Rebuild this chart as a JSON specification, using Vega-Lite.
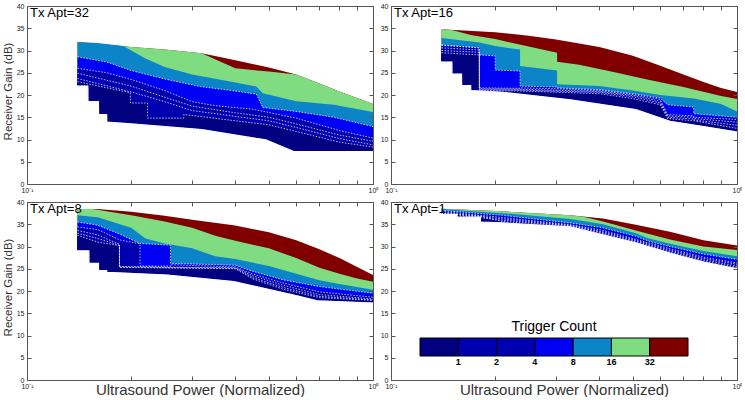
{
"$schema":"https://vega.github.io/schema/vega-lite/v6.json",
"padding":{"left":2,"top":2,"right":0,"bottom":0},
"background":"white",
"config":{"view":{"stroke":null},"font":"Liberation Sans",
"legend":{"orient":"none","legendX":393,"legendY":314,"direction":"horizontal","gradientLength":268,"gradientThickness":18,"titleFontSize":14,"titleFontWeight":"normal","titleAnchor":"middle","titlePadding":4,"titleColor":"#000","labelFontSize":9,"labelFontWeight":"bold","labelColor":"#000","labelOverlap":false,"labelOffset":3,"gradientStrokeColor":"#000","gradientStrokeWidth":1,"padding":0}},
"data":{"values":[
{"p":1,"c":5.5,"x":0.14,"y":31.9},{"p":1,"c":5.5,"x":0.2,"y":30.8},{"p":1,"c":5.5,"x":0.25,"y":30.2},{"p":1,"c":5.5,"x":0.32,"y":29.4},{"p":1,"c":5.5,"x":0.4,"y":27.8},{"p":1,"c":5.5,"x":0.5,"y":26.2},{"p":1,"c":5.5,"x":0.6,"y":24.6},{"p":1,"c":5.5,"x":0.7,"y":22.6},{"p":1,"c":5.5,"x":0.8,"y":20.8},{"p":1,"c":5.5,"x":0.9,"y":19.3},{"p":1,"c":5.5,"x":1,"y":18.0},
{"p":1,"c":4.5,"x":0.14,"y":31.9},{"p":1,"c":4.5,"x":0.2,"y":30.8},{"p":1,"c":4.5,"x":0.25,"y":30.2},{"p":1,"c":4.5,"x":0.32,"y":29.4},{"p":1,"c":4.5,"x":0.36,"y":27.6},{"p":1,"c":4.5,"x":0.4,"y":26.0},{"p":1,"c":4.5,"x":0.45,"y":25.6},{"p":1,"c":4.5,"x":0.5,"y":25.3},{"p":1,"c":4.5,"x":0.6,"y":24.6},{"p":1,"c":4.5,"x":0.7,"y":22.6},{"p":1,"c":4.5,"x":0.8,"y":20.8},{"p":1,"c":4.5,"x":0.9,"y":19.3},{"p":1,"c":4.5,"x":1,"y":18.0},
{"p":1,"c":3.5,"x":0.14,"y":31.9},{"p":1,"c":3.5,"x":0.16,"y":31.7},{"p":1,"c":3.5,"x":0.19,"y":31.0},{"p":1,"c":3.5,"x":0.2,"y":30.0},{"p":1,"c":3.5,"x":0.22,"y":28.2},{"p":1,"c":3.5,"x":0.25,"y":26.3},{"p":1,"c":3.5,"x":0.3,"y":24.6},{"p":1,"c":3.5,"x":0.39,"y":23.0},{"p":1,"c":3.5,"x":0.46,"y":21.9},{"p":1,"c":3.5,"x":0.48,"y":20.4},{"p":1,"c":3.5,"x":0.6,"y":18.6},{"p":1,"c":3.5,"x":0.77,"y":17.8},{"p":1,"c":3.5,"x":1,"y":16.2},
{"p":1,"c":2.5,"x":0.14,"y":28.6},{"p":1,"c":2.5,"x":0.17,"y":27.4},{"p":1,"c":2.5,"x":0.2,"y":25.5},{"p":1,"c":2.5,"x":0.25,"y":23.6},{"p":1,"c":2.5,"x":0.316,"y":21.9},{"p":1,"c":2.5,"x":0.39,"y":21.0},{"p":1,"c":2.5,"x":0.46,"y":20.2},{"p":1,"c":2.5,"x":0.48,"y":17.2},{"p":1,"c":2.5,"x":0.6,"y":16.3},{"p":1,"c":2.5,"x":0.77,"y":15.0},{"p":1,"c":2.5,"x":1,"y":12.9},
{"p":1,"c":1.8,"x":0.14,"y":26.0},{"p":1,"c":1.8,"x":0.17,"y":25.0},{"p":1,"c":1.8,"x":0.2,"y":23.5},{"p":1,"c":1.8,"x":0.25,"y":21.0},{"p":1,"c":1.8,"x":0.3,"y":18.5},{"p":1,"c":1.8,"x":0.35,"y":17.6},{"p":1,"c":1.8,"x":0.45,"y":16.8},{"p":1,"c":1.8,"x":0.6,"y":14.8},{"p":1,"c":1.8,"x":0.8,"y":12.0},{"p":1,"c":1.8,"x":1,"y":10.3},
{"p":1,"c":1.2,"x":0.14,"y":24.9},{"p":1,"c":1.2,"x":0.2,"y":22.0},{"p":1,"c":1.2,"x":0.25,"y":19.5},{"p":1,"c":1.2,"x":0.3,"y":17.5},{"p":1,"c":1.2,"x":0.4,"y":16.0},{"p":1,"c":1.2,"x":0.5,"y":15.0},{"p":1,"c":1.2,"x":0.6,"y":13.5},{"p":1,"c":1.2,"x":0.8,"y":11.0},{"p":1,"c":1.2,"x":1,"y":9.6},
{"p":1,"c":0.5,"x":0.14,"y":23.7},{"p":1,"c":0.5,"x":0.2,"y":20.7},{"p":1,"c":0.5,"x":0.25,"y":18.5},{"p":1,"c":0.5,"x":0.3,"y":16.5},{"p":1,"c":0.5,"x":0.4,"y":15.2},{"p":1,"c":0.5,"x":0.5,"y":14.2},{"p":1,"c":0.5,"x":0.6,"y":12.7},{"p":1,"c":0.5,"x":0.8,"y":10.2},{"p":1,"c":0.5,"x":1,"y":8.8},
{"p":1,"c":-0.5,"x":0.14,"y":23.0},{"p":1,"c":-0.5,"x":0.199,"y":20.5},{"p":1,"c":-0.5,"x":0.1991,"y":18.2},{"p":1,"c":-0.5,"x":0.223,"y":18.2},{"p":1,"c":-0.5,"x":0.2231,"y":14.8},{"p":1,"c":-0.5,"x":0.284,"y":14.8},{"p":1,"c":-0.5,"x":0.2841,"y":15.6},{"p":1,"c":-0.5,"x":0.3,"y":15.4},{"p":1,"c":-0.5,"x":0.4,"y":14.2},{"p":1,"c":-0.5,"x":0.5,"y":13.3},{"p":1,"c":-0.5,"x":0.6,"y":11.8},{"p":1,"c":-0.5,"x":0.8,"y":9.4},{"p":1,"c":-0.5,"x":1,"y":8.3},
{"p":1,"c":-9,"x":0.14,"y":22.0},{"p":1,"c":-9,"x":0.1499,"y":22.0},{"p":1,"c":-9,"x":0.15,"y":18.5},{"p":1,"c":-9,"x":0.1609,"y":18.5},{"p":1,"c":-9,"x":0.161,"y":15.6},{"p":1,"c":-9,"x":0.1699,"y":15.6},{"p":1,"c":-9,"x":0.17,"y":13.9},{"p":1,"c":-9,"x":0.2,"y":13.5},{"p":1,"c":-9,"x":0.32,"y":12.2},{"p":1,"c":-9,"x":0.49,"y":9.9},{"p":1,"c":-9,"x":0.59,"y":7.3},{"p":1,"c":-9,"x":1,"y":7.3},
{"p":2,"c":5.5,"x":0.14,"y":34.8},{"p":2,"c":5.5,"x":0.2,"y":34.1},{"p":2,"c":5.5,"x":0.25,"y":33.3},{"p":2,"c":5.5,"x":0.3,"y":32.5},{"p":2,"c":5.5,"x":0.4,"y":30.8},{"p":2,"c":5.5,"x":0.5,"y":28.8},{"p":2,"c":5.5,"x":0.6,"y":26.6},{"p":2,"c":5.5,"x":0.7,"y":24.6},{"p":2,"c":5.5,"x":0.8,"y":22.9},{"p":2,"c":5.5,"x":0.9,"y":21.6},{"p":2,"c":5.5,"x":1,"y":20.7},
{"p":2,"c":4.5,"x":0.14,"y":34.8},{"p":2,"c":4.5,"x":0.15,"y":34.6},{"p":2,"c":4.5,"x":0.17,"y":33.5},{"p":2,"c":4.5,"x":0.2,"y":32.6},{"p":2,"c":4.5,"x":0.23,"y":31.5},{"p":2,"c":4.5,"x":0.302,"y":29.5},{"p":2,"c":4.5,"x":0.3021,"y":27.5},{"p":2,"c":4.5,"x":0.35,"y":26.8},{"p":2,"c":4.5,"x":0.45,"y":25.0},{"p":2,"c":4.5,"x":0.55,"y":23.5},{"p":2,"c":4.5,"x":0.7,"y":21.8},{"p":2,"c":4.5,"x":0.9,"y":19.8},{"p":2,"c":4.5,"x":1,"y":19.1},
{"p":2,"c":3.5,"x":0.14,"y":32.8},{"p":2,"c":3.5,"x":0.18,"y":31.8},{"p":2,"c":3.5,"x":0.2,"y":31.0},{"p":2,"c":3.5,"x":0.236,"y":30.2},{"p":2,"c":3.5,"x":0.2361,"y":26.5},{"p":2,"c":3.5,"x":0.302,"y":25.5},{"p":2,"c":3.5,"x":0.3021,"y":22.4},{"p":2,"c":3.5,"x":0.4,"y":22.0},{"p":2,"c":3.5,"x":0.5,"y":21.0},{"p":2,"c":3.5,"x":0.6,"y":20.0},{"p":2,"c":3.5,"x":0.75,"y":19.2},{"p":2,"c":3.5,"x":0.9,"y":18.0},{"p":2,"c":3.5,"x":1,"y":16.3},
{"p":2,"c":2.5,"x":0.14,"y":31.2},{"p":2,"c":2.5,"x":0.18,"y":30.6},{"p":2,"c":2.5,"x":0.1801,"y":29.0},{"p":2,"c":2.5,"x":0.2,"y":28.8},{"p":2,"c":2.5,"x":0.2001,"y":25.6},{"p":2,"c":2.5,"x":0.236,"y":25.4},{"p":2,"c":2.5,"x":0.2361,"y":22.0},{"p":2,"c":2.5,"x":0.302,"y":21.8},{"p":2,"c":2.5,"x":0.3021,"y":21.6},{"p":2,"c":2.5,"x":0.4,"y":21.2},{"p":2,"c":2.5,"x":0.5,"y":20.3},{"p":2,"c":2.5,"x":0.6,"y":19.3},{"p":2,"c":2.5,"x":0.63,"y":17.8},{"p":2,"c":2.5,"x":0.75,"y":17.3},{"p":2,"c":2.5,"x":0.7501,"y":15.8},{"p":2,"c":2.5,"x":1,"y":15.0},
{"p":2,"c":1.8,"x":0.14,"y":31.2},{"p":2,"c":1.8,"x":0.18,"y":30.6},{"p":2,"c":1.8,"x":0.1801,"y":21.6},{"p":2,"c":1.8,"x":0.236,"y":21.5},{"p":2,"c":1.8,"x":0.2361,"y":21.6},{"p":2,"c":1.8,"x":0.302,"y":21.4},{"p":2,"c":1.8,"x":0.4,"y":21.0},{"p":2,"c":1.8,"x":0.5,"y":20.1},{"p":2,"c":1.8,"x":0.6,"y":19.0},{"p":2,"c":1.8,"x":0.63,"y":15.6},{"p":2,"c":1.8,"x":0.75,"y":15.3},{"p":2,"c":1.8,"x":0.7501,"y":15.0},{"p":2,"c":1.8,"x":1,"y":14.5},
{"p":2,"c":1.2,"x":0.14,"y":30.6},{"p":2,"c":1.2,"x":0.18,"y":30.1},{"p":2,"c":1.2,"x":0.1801,"y":21.4},{"p":2,"c":1.2,"x":0.236,"y":21.3},{"p":2,"c":1.2,"x":0.4,"y":20.8},{"p":2,"c":1.2,"x":0.5,"y":19.9},{"p":2,"c":1.2,"x":0.6,"y":18.6},{"p":2,"c":1.2,"x":0.63,"y":15.3},{"p":2,"c":1.2,"x":0.75,"y":15.0},{"p":2,"c":1.2,"x":0.7501,"y":14.7},{"p":2,"c":1.2,"x":1,"y":13.9},
{"p":2,"c":0.5,"x":0.14,"y":30.0},{"p":2,"c":0.5,"x":0.18,"y":29.6},{"p":2,"c":0.5,"x":0.1801,"y":21.2},{"p":2,"c":0.5,"x":0.236,"y":21.1},{"p":2,"c":0.5,"x":0.4,"y":20.6},{"p":2,"c":0.5,"x":0.5,"y":19.6},{"p":2,"c":0.5,"x":0.6,"y":18.2},{"p":2,"c":0.5,"x":0.63,"y":15.0},{"p":2,"c":0.5,"x":0.75,"y":14.6},{"p":2,"c":0.5,"x":0.7501,"y":14.4},{"p":2,"c":0.5,"x":1,"y":13.2},
{"p":2,"c":-0.5,"x":0.14,"y":29.5},{"p":2,"c":-0.5,"x":0.18,"y":29.0},{"p":2,"c":-0.5,"x":0.1801,"y":21.0},{"p":2,"c":-0.5,"x":0.236,"y":20.9},{"p":2,"c":-0.5,"x":0.4,"y":20.3},{"p":2,"c":-0.5,"x":0.5,"y":19.2},{"p":2,"c":-0.5,"x":0.6,"y":17.8},{"p":2,"c":-0.5,"x":0.63,"y":14.7},{"p":2,"c":-0.5,"x":0.75,"y":14.2},{"p":2,"c":-0.5,"x":1,"y":12.5},
{"p":2,"c":-9,"x":0.14,"y":27.4},{"p":2,"c":-9,"x":0.1499,"y":27.4},{"p":2,"c":-9,"x":0.15,"y":24.7},{"p":2,"c":-9,"x":0.1599,"y":24.7},{"p":2,"c":-9,"x":0.16,"y":22.1},{"p":2,"c":-9,"x":0.1699,"y":22.1},{"p":2,"c":-9,"x":0.17,"y":21.0},{"p":2,"c":-9,"x":0.21,"y":20.6},{"p":2,"c":-9,"x":0.33,"y":18.9},{"p":2,"c":-9,"x":0.51,"y":16.7},{"p":2,"c":-9,"x":0.64,"y":14.1},{"p":2,"c":-9,"x":0.8,"y":12.9},{"p":2,"c":-9,"x":1,"y":11.7},
{"p":3,"c":5.5,"x":0.14,"y":38.4},{"p":3,"c":5.5,"x":0.16,"y":38.4},{"p":3,"c":5.5,"x":0.2,"y":37.8},{"p":3,"c":5.5,"x":0.25,"y":36.9},{"p":3,"c":5.5,"x":0.3,"y":36.0},{"p":3,"c":5.5,"x":0.4,"y":34.7},{"p":3,"c":5.5,"x":0.5,"y":33.2},{"p":3,"c":5.5,"x":0.6,"y":31.4},{"p":3,"c":5.5,"x":0.7,"y":29.4},{"p":3,"c":5.5,"x":0.8,"y":27.4},{"p":3,"c":5.5,"x":0.9,"y":25.4},{"p":3,"c":5.5,"x":1,"y":23.6},
{"p":3,"c":4.5,"x":0.14,"y":38.4},{"p":3,"c":4.5,"x":0.155,"y":38.4},{"p":3,"c":4.5,"x":0.17,"y":37.9},{"p":3,"c":4.5,"x":0.2,"y":37.0},{"p":3,"c":4.5,"x":0.25,"y":35.6},{"p":3,"c":4.5,"x":0.3,"y":34.2},{"p":3,"c":4.5,"x":0.35,"y":32.4},{"p":3,"c":4.5,"x":0.4,"y":31.3},{"p":3,"c":4.5,"x":0.5,"y":29.6},{"p":3,"c":4.5,"x":0.6,"y":27.4},{"p":3,"c":4.5,"x":0.7,"y":25.2},{"p":3,"c":4.5,"x":0.8,"y":23.9},{"p":3,"c":4.5,"x":0.9,"y":22.8},{"p":3,"c":4.5,"x":1,"y":22.1},
{"p":3,"c":3.5,"x":0.14,"y":37.0},{"p":3,"c":3.5,"x":0.16,"y":36.6},{"p":3,"c":3.5,"x":0.2,"y":34.2},{"p":3,"c":3.5,"x":0.22,"y":31.8},{"p":3,"c":3.5,"x":0.25,"y":30.7},{"p":3,"c":3.5,"x":0.3,"y":29.6},{"p":3,"c":3.5,"x":0.35,"y":27.8},{"p":3,"c":3.5,"x":0.4,"y":27.2},{"p":3,"c":3.5,"x":0.5,"y":25.6},{"p":3,"c":3.5,"x":0.6,"y":23.9},{"p":3,"c":3.5,"x":0.7,"y":22.4},{"p":3,"c":3.5,"x":0.8,"y":21.6},{"p":3,"c":3.5,"x":1,"y":20.3},
{"p":3,"c":2.5,"x":0.14,"y":35.5},{"p":3,"c":2.5,"x":0.16,"y":34.8},{"p":3,"c":2.5,"x":0.185,"y":32.8},{"p":3,"c":2.5,"x":0.212,"y":30.7},{"p":3,"c":2.5,"x":0.26,"y":30.3},{"p":3,"c":2.5,"x":0.2601,"y":26.2},{"p":3,"c":2.5,"x":0.4,"y":25.8},{"p":3,"c":2.5,"x":0.45,"y":24.4},{"p":3,"c":2.5,"x":0.55,"y":22.5},{"p":3,"c":2.5,"x":0.7,"y":21.0},{"p":3,"c":2.5,"x":1,"y":19.5},
{"p":3,"c":1.8,"x":0.14,"y":34.4},{"p":3,"c":1.8,"x":0.16,"y":33.8},{"p":3,"c":1.8,"x":0.185,"y":31.5},{"p":3,"c":1.8,"x":0.212,"y":30.6},{"p":3,"c":1.8,"x":0.2121,"y":25.6},{"p":3,"c":1.8,"x":0.26,"y":25.6},{"p":3,"c":1.8,"x":0.2601,"y":25.9},{"p":3,"c":1.8,"x":0.4,"y":25.4},{"p":3,"c":1.8,"x":0.45,"y":23.8},{"p":3,"c":1.8,"x":0.55,"y":21.8},{"p":3,"c":1.8,"x":0.7,"y":19.8},{"p":3,"c":1.8,"x":1,"y":18.6},
{"p":3,"c":1.2,"x":0.14,"y":33.6},{"p":3,"c":1.2,"x":0.16,"y":32.6},{"p":3,"c":1.2,"x":0.185,"y":30.5},{"p":3,"c":1.2,"x":0.1851,"y":25.5},{"p":3,"c":1.2,"x":0.4,"y":25.2},{"p":3,"c":1.2,"x":0.45,"y":23.4},{"p":3,"c":1.2,"x":0.55,"y":21.3},{"p":3,"c":1.2,"x":0.7,"y":19.2},{"p":3,"c":1.2,"x":1,"y":18.2},
{"p":3,"c":0.5,"x":0.14,"y":33.0},{"p":3,"c":0.5,"x":0.16,"y":31.8},{"p":3,"c":0.5,"x":0.185,"y":30.3},{"p":3,"c":0.5,"x":0.1851,"y":25.4},{"p":3,"c":0.5,"x":0.4,"y":25.1},{"p":3,"c":0.5,"x":0.45,"y":23.0},{"p":3,"c":0.5,"x":0.55,"y":20.8},{"p":3,"c":0.5,"x":0.7,"y":18.8},{"p":3,"c":0.5,"x":1,"y":18.0},
{"p":3,"c":-0.5,"x":0.14,"y":32.5},{"p":3,"c":-0.5,"x":0.16,"y":31.0},{"p":3,"c":-0.5,"x":0.185,"y":30.2},{"p":3,"c":-0.5,"x":0.1851,"y":25.3},{"p":3,"c":-0.5,"x":0.4,"y":25.0},{"p":3,"c":-0.5,"x":0.45,"y":22.7},{"p":3,"c":-0.5,"x":0.55,"y":20.4},{"p":3,"c":-0.5,"x":0.7,"y":18.5},{"p":3,"c":-0.5,"x":1,"y":17.9},
{"p":3,"c":-9,"x":0.14,"y":29.0},{"p":3,"c":-9,"x":0.1509,"y":29.0},{"p":3,"c":-9,"x":0.151,"y":26.2},{"p":3,"c":-9,"x":0.1609,"y":26.2},{"p":3,"c":-9,"x":0.161,"y":24.6},{"p":3,"c":-9,"x":0.1699,"y":24.6},{"p":3,"c":-9,"x":0.17,"y":24.2},{"p":3,"c":-9,"x":0.254,"y":23.6},{"p":3,"c":-9,"x":0.396,"y":22.1},{"p":3,"c":-9,"x":0.59,"y":19.1},{"p":3,"c":-9,"x":0.69,"y":17.8},{"p":3,"c":-9,"x":1,"y":17.3},
{"p":4,"c":5.5,"x":0.14,"y":38.5},{"p":4,"c":5.5,"x":0.21,"y":37.9},{"p":4,"c":5.5,"x":0.33,"y":37.0},{"p":4,"c":5.5,"x":0.41,"y":36.3},{"p":4,"c":5.5,"x":0.51,"y":34.9},{"p":4,"c":5.5,"x":0.64,"y":33.3},{"p":4,"c":5.5,"x":0.8,"y":31.4},{"p":4,"c":5.5,"x":1,"y":30.2},
{"p":4,"c":4.5,"x":0.14,"y":38.5},{"p":4,"c":4.5,"x":0.21,"y":37.9},{"p":4,"c":4.5,"x":0.33,"y":37.0},{"p":4,"c":4.5,"x":0.36,"y":36.7},{"p":4,"c":4.5,"x":0.41,"y":35.6},{"p":4,"c":4.5,"x":0.51,"y":33.6},{"p":4,"c":4.5,"x":0.64,"y":31.6},{"p":4,"c":4.5,"x":0.8,"y":30.0},{"p":4,"c":4.5,"x":1,"y":29.2},
{"p":4,"c":3.5,"x":0.14,"y":38.4},{"p":4,"c":3.5,"x":0.21,"y":37.5},{"p":4,"c":3.5,"x":0.33,"y":36.2},{"p":4,"c":3.5,"x":0.41,"y":35.0},{"p":4,"c":3.5,"x":0.51,"y":33.0},{"p":4,"c":3.5,"x":0.55,"y":31.9},{"p":4,"c":3.5,"x":0.64,"y":30.6},{"p":4,"c":3.5,"x":0.8,"y":29.0},{"p":4,"c":3.5,"x":1,"y":27.8},
{"p":4,"c":2.5,"x":0.14,"y":38.1},{"p":4,"c":2.5,"x":0.21,"y":37.0},{"p":4,"c":2.5,"x":0.33,"y":35.3},{"p":4,"c":2.5,"x":0.41,"y":34.2},{"p":4,"c":2.5,"x":0.51,"y":32.3},{"p":4,"c":2.5,"x":0.56,"y":31.1},{"p":4,"c":2.5,"x":0.64,"y":30.0},{"p":4,"c":2.5,"x":0.8,"y":28.3},{"p":4,"c":2.5,"x":1,"y":27.1},
{"p":4,"c":1.8,"x":0.14,"y":37.9},{"p":4,"c":1.8,"x":0.21,"y":36.5},{"p":4,"c":1.8,"x":0.33,"y":34.9},{"p":4,"c":1.8,"x":0.41,"y":33.6},{"p":4,"c":1.8,"x":0.51,"y":31.6},{"p":4,"c":1.8,"x":0.64,"y":29.5},{"p":4,"c":1.8,"x":0.8,"y":27.6},{"p":4,"c":1.8,"x":1,"y":26.3},
{"p":4,"c":1.2,"x":0.14,"y":37.7},{"p":4,"c":1.2,"x":0.21,"y":36.2},{"p":4,"c":1.2,"x":0.33,"y":34.8},{"p":4,"c":1.2,"x":0.41,"y":33.3},{"p":4,"c":1.2,"x":0.51,"y":31.4},{"p":4,"c":1.2,"x":0.64,"y":29.2},{"p":4,"c":1.2,"x":0.8,"y":27.3},{"p":4,"c":1.2,"x":1,"y":26.0},
{"p":4,"c":0.5,"x":0.14,"y":37.5},{"p":4,"c":0.5,"x":0.21,"y":35.9},{"p":4,"c":0.5,"x":0.33,"y":34.7},{"p":4,"c":0.5,"x":0.41,"y":33.1},{"p":4,"c":0.5,"x":0.51,"y":31.2},{"p":4,"c":0.5,"x":0.64,"y":28.95},{"p":4,"c":0.5,"x":0.8,"y":27.0},{"p":4,"c":0.5,"x":1,"y":25.6},
{"p":4,"c":-0.5,"x":0.14,"y":37.4},{"p":4,"c":-0.5,"x":0.18,"y":36.9},{"p":4,"c":-0.5,"x":0.21,"y":35.6},{"p":4,"c":-0.5,"x":0.33,"y":34.6},{"p":4,"c":-0.5,"x":0.41,"y":32.9},{"p":4,"c":-0.5,"x":0.51,"y":31.0},{"p":4,"c":-0.5,"x":0.64,"y":28.7},{"p":4,"c":-0.5,"x":0.8,"y":26.75},{"p":4,"c":-0.5,"x":1,"y":25.3},
{"p":4,"c":-9,"x":0.14,"y":37.2},{"p":4,"c":-9,"x":0.1549,"y":37.2},{"p":4,"c":-9,"x":0.155,"y":36.6},{"p":4,"c":-9,"x":0.1811,"y":36.6},{"p":4,"c":-9,"x":0.1812,"y":35.5},{"p":4,"c":-9,"x":0.21,"y":35.3},{"p":4,"c":-9,"x":0.33,"y":34.4},{"p":4,"c":-9,"x":0.41,"y":32.6},{"p":4,"c":-9,"x":0.51,"y":30.8},{"p":4,"c":-9,"x":0.64,"y":28.5},{"p":4,"c":-9,"x":0.8,"y":26.5},{"p":4,"c":-9,"x":1,"y":25.0}
]},
"concat":[
{"width":346,"height":178,"resolve":{"axis":{"x":"independent","y":"independent"}},"layer":[
 {"transform":[{"filter":"datum.p == 1 && datum.c > -5"}],"mark":{"type":"area","interpolate":"linear"},
  "encoding":{"x":{"field":"x","type":"quantitative","scale":{"type":"log","domain":[0.1,1],"nice":false},"axis":{"orient":"bottom","values":[0.1,0.2,0.3,0.4,0.5,0.6,0.7,0.8,0.9,1],"labelExpr":"datum.value < 0.15 ? '10⁻¹' : (datum.value > 0.95 ? '10⁰' : '')","tickSize":-4,"labelPadding":6,"labelFontSize":7,"labelColor":"#222","labelFlush":false,"labelOverlap":false,"domainColor":"#555","tickColor":"#555","grid":false,"title":null,"zindex":2}},
  "y":{"field":"y","type":"quantitative","stack":null,"scale":{"domain":[0,40],"nice":false},"axis":{"orient":"left","values":[0,5,10,15,20,25,30,35,40],"tickSize":-4,"labelPadding":7,"labelFontSize":7,"labelColor":"#222","labelFlush":false,"domainColor":"#555","tickColor":"#555","grid":false,"zindex":2,"title":"Receiver Gain (dB)","titleFontSize":11.5,"titleFontWeight":"normal","titleColor":"#333","titleX":-15.5,"titleY":85,"titleAlign":"center","titleBaseline":"alphabetic","titleAngle":270}},
  "color":{"field":"c","type":"quantitative","title":"Trigger Count","scale":{"type":"threshold","domain":[0,1,2,3,4,5],"range":["#000080","#0000B0","#0000B0","#0000F5","#0C84C8","#80DC80","#800000"]},"legend":{"type":"gradient","labelExpr":"isFinite(datum.value) ? format(pow(2, datum.value), 'd') : ''"}}}},
 {"transform":[{"filter":"datum.p == 1 && datum.c < -5"}],"mark":{"type":"area","color":"white","stroke":"white","strokeWidth":1.2},
  "encoding":{"x":{"field":"x","type":"quantitative","axis":{"orient":"top","values":[0.1,0.2,0.3,0.4,0.5,0.6,0.7,0.8,0.9,1],"labels":false,"tickSize":-4,"domainColor":"#555","tickColor":"#555","grid":false,"title":null,"zindex":2}},
  "y":{"field":"y","type":"quantitative","axis":{"orient":"right","values":[0,5,10,15,20,25,30,35,40],"labels":false,"tickSize":-4,"domainColor":"#555","tickColor":"#555","grid":false,"title":null,"zindex":2}}}},
 {"transform":[{"filter":"datum.p == 1 && datum.c < 3"}],"mark":{"type":"line","color":"white","strokeDash":[1.5,1.5],"strokeWidth":0.8,"opacity":0.9},
  "encoding":{"x":{"field":"x","type":"quantitative","axis":null},"y":{"field":"y","type":"quantitative","axis":null},"detail":{"field":"c"}}},
 {"data":{"values":[{"t":"Tx Apt=32"}]},"mark":{"type":"text","align":"left","baseline":"top","dx":3,"dy":1,"fontSize":13,"color":"black"},
  "encoding":{"x":{"datum":0.1,"type":"quantitative","axis":null},"y":{"datum":40,"type":"quantitative","axis":null},"text":{"field":"t"}}}
]},
{"width":346,"height":178,"resolve":{"axis":{"x":"independent","y":"independent"}},"layer":[
 {"transform":[{"filter":"datum.p == 2 && datum.c > -5"}],"mark":{"type":"area","interpolate":"linear"},
  "encoding":{"x":{"field":"x","type":"quantitative","scale":{"type":"log","domain":[0.1,1],"nice":false},"axis":{"orient":"bottom","values":[0.1,0.2,0.3,0.4,0.5,0.6,0.7,0.8,0.9,1],"labelExpr":"datum.value < 0.15 ? '10⁻¹' : (datum.value > 0.95 ? '10⁰' : '')","tickSize":-4,"labelPadding":6,"labelFontSize":7,"labelColor":"#222","labelFlush":false,"labelOverlap":false,"domainColor":"#555","tickColor":"#555","grid":false,"title":null,"zindex":2}},
  "y":{"field":"y","type":"quantitative","stack":null,"scale":{"domain":[0,40],"nice":false},"axis":{"orient":"left","values":[0,5,10,15,20,25,30,35,40],"tickSize":-4,"labelPadding":7,"labelFontSize":7,"labelColor":"#222","labelFlush":false,"domainColor":"#555","tickColor":"#555","grid":false,"title":null,"zindex":2}},
  "color":{"field":"c","type":"quantitative","title":"Trigger Count","scale":{"type":"threshold","domain":[0,1,2,3,4,5],"range":["#000080","#0000B0","#0000B0","#0000F5","#0C84C8","#80DC80","#800000"]},"legend":{"type":"gradient","labelExpr":"isFinite(datum.value) ? format(pow(2, datum.value), 'd') : ''"}}}},
 {"transform":[{"filter":"datum.p == 2 && datum.c < -5"}],"mark":{"type":"area","color":"white","stroke":"white","strokeWidth":1.2},
  "encoding":{"x":{"field":"x","type":"quantitative","axis":{"orient":"top","values":[0.1,0.2,0.3,0.4,0.5,0.6,0.7,0.8,0.9,1],"labels":false,"tickSize":-4,"domainColor":"#555","tickColor":"#555","grid":false,"title":null,"zindex":2}},
  "y":{"field":"y","type":"quantitative","axis":{"orient":"right","values":[0,5,10,15,20,25,30,35,40],"labels":false,"tickSize":-4,"domainColor":"#555","tickColor":"#555","grid":false,"title":null,"zindex":2}}}},
 {"transform":[{"filter":"datum.p == 2 && datum.c < 3"}],"mark":{"type":"line","color":"white","strokeDash":[1.5,1.5],"strokeWidth":0.8,"opacity":0.9},
  "encoding":{"x":{"field":"x","type":"quantitative","axis":null},"y":{"field":"y","type":"quantitative","axis":null},"detail":{"field":"c"}}},
 {"data":{"values":[{"t":"Tx Apt=16"}]},"mark":{"type":"text","align":"left","baseline":"top","dx":3,"dy":1,"fontSize":13,"color":"black"},
  "encoding":{"x":{"datum":0.1,"type":"quantitative","axis":null},"y":{"datum":40,"type":"quantitative","axis":null},"text":{"field":"t"}}}
]},
{"width":346,"height":178,"resolve":{"axis":{"x":"independent","y":"independent"}},"layer":[
 {"transform":[{"filter":"datum.p == 3 && datum.c > -5"}],"mark":{"type":"area","interpolate":"linear"},
  "encoding":{"x":{"field":"x","type":"quantitative","scale":{"type":"log","domain":[0.1,1],"nice":false},"axis":{"orient":"bottom","values":[0.1,0.2,0.3,0.4,0.5,0.6,0.7,0.8,0.9,1],"labelExpr":"datum.value < 0.15 ? '10⁻¹' : (datum.value > 0.95 ? '10⁰' : '')","tickSize":-4,"labelPadding":6,"labelFontSize":7,"labelColor":"#222","labelFlush":false,"labelOverlap":false,"domainColor":"#555","tickColor":"#555","grid":false,"zindex":2,"title":"Ultrasound Power (Normalized)","titleFontSize":15,"titleFontWeight":"normal","titleColor":"#333","titleY":14,"titleBaseline":"alphabetic"}},
  "y":{"field":"y","type":"quantitative","stack":null,"scale":{"domain":[0,40],"nice":false},"axis":{"orient":"left","values":[0,5,10,15,20,25,30,35,40],"tickSize":-4,"labelPadding":7,"labelFontSize":7,"labelColor":"#222","labelFlush":false,"domainColor":"#555","tickColor":"#555","grid":false,"zindex":2,"title":"Receiver Gain (dB)","titleFontSize":11.5,"titleFontWeight":"normal","titleColor":"#333","titleX":-15.5,"titleY":85,"titleAlign":"center","titleBaseline":"alphabetic","titleAngle":270}},
  "color":{"field":"c","type":"quantitative","title":"Trigger Count","scale":{"type":"threshold","domain":[0,1,2,3,4,5],"range":["#000080","#0000B0","#0000B0","#0000F5","#0C84C8","#80DC80","#800000"]},"legend":{"type":"gradient","labelExpr":"isFinite(datum.value) ? format(pow(2, datum.value), 'd') : ''"}}}},
 {"transform":[{"filter":"datum.p == 3 && datum.c < -5"}],"mark":{"type":"area","color":"white","stroke":"white","strokeWidth":1.2},
  "encoding":{"x":{"field":"x","type":"quantitative","axis":{"orient":"top","values":[0.1,0.2,0.3,0.4,0.5,0.6,0.7,0.8,0.9,1],"labels":false,"tickSize":-4,"domainColor":"#555","tickColor":"#555","grid":false,"title":null,"zindex":2}},
  "y":{"field":"y","type":"quantitative","axis":{"orient":"right","values":[0,5,10,15,20,25,30,35,40],"labels":false,"tickSize":-4,"domainColor":"#555","tickColor":"#555","grid":false,"title":null,"zindex":2}}}},
 {"transform":[{"filter":"datum.p == 3 && datum.c < 3"}],"mark":{"type":"line","color":"white","strokeDash":[1.5,1.5],"strokeWidth":0.8,"opacity":0.9},
  "encoding":{"x":{"field":"x","type":"quantitative","axis":null},"y":{"field":"y","type":"quantitative","axis":null},"detail":{"field":"c"}}},
 {"data":{"values":[{"t":"Tx Apt=8"}]},"mark":{"type":"text","align":"left","baseline":"top","dx":3,"dy":1,"fontSize":13,"color":"black"},
  "encoding":{"x":{"datum":0.1,"type":"quantitative","axis":null},"y":{"datum":40,"type":"quantitative","axis":null},"text":{"field":"t"}}}
]},
{"width":346,"height":178,"resolve":{"axis":{"x":"independent","y":"independent"}},"layer":[
 {"transform":[{"filter":"datum.p == 4 && datum.c > -5"}],"mark":{"type":"area","interpolate":"linear"},
  "encoding":{"x":{"field":"x","type":"quantitative","scale":{"type":"log","domain":[0.1,1],"nice":false},"axis":{"orient":"bottom","values":[0.1,0.2,0.3,0.4,0.5,0.6,0.7,0.8,0.9,1],"labelExpr":"datum.value < 0.15 ? '10⁻¹' : (datum.value > 0.95 ? '10⁰' : '')","tickSize":-4,"labelPadding":6,"labelFontSize":7,"labelColor":"#222","labelFlush":false,"labelOverlap":false,"domainColor":"#555","tickColor":"#555","grid":false,"zindex":2,"title":"Ultrasound Power (Normalized)","titleFontSize":15,"titleFontWeight":"normal","titleColor":"#333","titleY":14,"titleBaseline":"alphabetic"}},
  "y":{"field":"y","type":"quantitative","stack":null,"scale":{"domain":[0,40],"nice":false},"axis":{"orient":"left","values":[0,5,10,15,20,25,30,35,40],"tickSize":-4,"labelPadding":7,"labelFontSize":7,"labelColor":"#222","labelFlush":false,"domainColor":"#555","tickColor":"#555","grid":false,"title":null,"zindex":2}},
  "color":{"field":"c","type":"quantitative","title":"Trigger Count","scale":{"type":"threshold","domain":[0,1,2,3,4,5],"range":["#000080","#0000B0","#0000B0","#0000F5","#0C84C8","#80DC80","#800000"]},"legend":{"type":"gradient","labelExpr":"isFinite(datum.value) ? format(pow(2, datum.value), 'd') : ''"}}}},
 {"transform":[{"filter":"datum.p == 4 && datum.c < -5"}],"mark":{"type":"area","color":"white","stroke":"white","strokeWidth":1.2},
  "encoding":{"x":{"field":"x","type":"quantitative","axis":{"orient":"top","values":[0.1,0.2,0.3,0.4,0.5,0.6,0.7,0.8,0.9,1],"labels":false,"tickSize":-4,"domainColor":"#555","tickColor":"#555","grid":false,"title":null,"zindex":2}},
  "y":{"field":"y","type":"quantitative","axis":{"orient":"right","values":[0,5,10,15,20,25,30,35,40],"labels":false,"tickSize":-4,"domainColor":"#555","tickColor":"#555","grid":false,"title":null,"zindex":2}}}},
 {"transform":[{"filter":"datum.p == 4 && datum.c < 3"}],"mark":{"type":"line","color":"white","strokeDash":[1.5,1.5],"strokeWidth":0.8,"opacity":0.9},
  "encoding":{"x":{"field":"x","type":"quantitative","axis":null},"y":{"field":"y","type":"quantitative","axis":null},"detail":{"field":"c"}}},
 {"data":{"values":[{"t":"Tx Apt=1"}]},"mark":{"type":"text","align":"left","baseline":"top","dx":3,"dy":1,"fontSize":13,"color":"black"},
  "encoding":{"x":{"datum":0.1,"type":"quantitative","axis":null},"y":{"datum":40,"type":"quantitative","axis":null},"text":{"field":"t"}}}
]}
],
"columns":2,
"spacing":{"row":18,"column":18},
"bounds":"flush",
"resolve":{"scale":{"color":"shared"},"legend":{"color":"shared"}}
}
